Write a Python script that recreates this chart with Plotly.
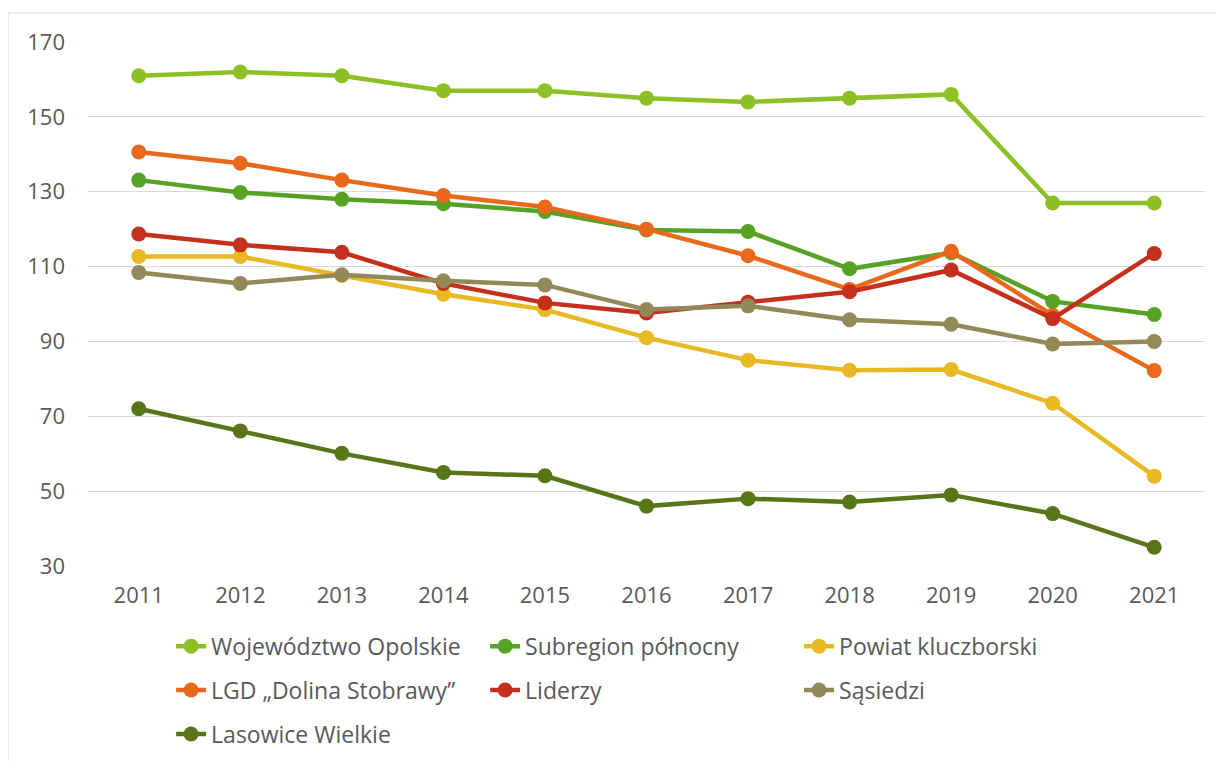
import plotly.graph_objects as go

# Years on the x axis
years = ['2011', '2012', '2013', '2014', '2015', '2016', '2017', '2018', '2019', '2020', '2021']

# Series values
wojewodztwo = [161, 162, 161, 157, 157, 155, 154, 155, 156, 127, 127]
subregion = [133.1, 129.8, 128, 126.8, 124.7, 119.8, 119.4, 109.4, 113.7, 100.7, 97.2]
powiat = [112.7, 112.7, 107.6, 102.6, 98.5, 91, 85, 82.3, 82.5, 73.5, 54]
lgd = [140.6, 137.6, 133.1, 129, 125.9, 120, 112.9, 103.9, 114.1, 97, 82.2]
liderzy = [118.7, 115.8, 113.8, 105.5, 100.3, 97.6, 100.5, 103.3, 109.1, 96.1, 113.5]
sasiedzi = [108.4, 105.5, 107.8, 106.2, 105.1, 98.5, 99.5, 95.8, 94.6, 89.3, 90]
lasowice = [72, 66.1, 60.1, 55, 54.1, 46, 48, 47.1, 49, 44, 35]

# name, values, colour, legend column
series = [
    ('Województwo Opolskie', wojewodztwo, '#8dc026', 'legend'),
    ('Subregion północny', subregion, '#55a224', 'legend2'),
    ('Powiat kluczborski', powiat, '#e8b923', 'legend3'),
    ('LGD „Dolina Stobrawy”', lgd, '#e8691b', 'legend'),
    ('Liderzy', liderzy, '#c4301c', 'legend2'),
    ('Sąsiedzi', sasiedzi, '#938857', 'legend3'),
    ('Lasowice Wielkie', lasowice, '#587518', 'legend'),
]

FONT = 'Open Sans'
TEXT = '#595959'

fig = go.Figure()
for name, vals, color, leg in series:
    fig.add_trace(go.Scatter(x=years, y=vals, name=name, mode='lines+markers',
        line=dict(color=color, width=4.5),
        marker=dict(color=color, size=15),
        legend=leg, legendgroup=name))

# Legend columns placed like the original three-column grid
legend_style = dict(orientation='v', yanchor='top', xanchor='left', y=-0.112,
    font=dict(family=FONT, size=23, color=TEXT), bgcolor='rgba(0,0,0,0)',
    tracegroupgap=11, itemwidth=30)

# the page body adds 8px, margins are reduced to keep the plot where it belongs
fig.update_layout(
    width=1223, height=761,
    margin=dict(l=80, r=26, t=34, b=203, autoexpand=False),
    paper_bgcolor='white', plot_bgcolor='white',
    font=dict(family=FONT, size=22, color=TEXT),
    showlegend=True,
    legend=dict(x=0.0744, **legend_style),
    legend2=dict(x=0.3555, **legend_style),
    legend3=dict(x=0.6366, **legend_style),
    # light frame of the chart area
    shapes=[dict(type='rect', xref='paper', yref='paper',
        x0=-0.0716, x1=1.05, y0=-0.45, y1=1.0553,
        line=dict(color='#d9d9d9', width=1.2), layer='below')],
)
fig.update_xaxes(type='category', range=[-0.5, 10.5], showgrid=False, zeroline=False,
    showline=False, ticks='', tickfont=dict(family=FONT, size=22, color=TEXT),
    ticklabelstandoff=14)
fig.update_yaxes(range=[30, 170], tickvals=[30, 50, 70, 90, 110, 130, 150, 170],
    showgrid=True, gridcolor='#d9d9d9', gridwidth=1.3, zeroline=False, showline=False,
    ticks='', tickfont=dict(family=FONT, size=22, color=TEXT), ticklabelstandoff=22)

fig.write_html('out.html')
